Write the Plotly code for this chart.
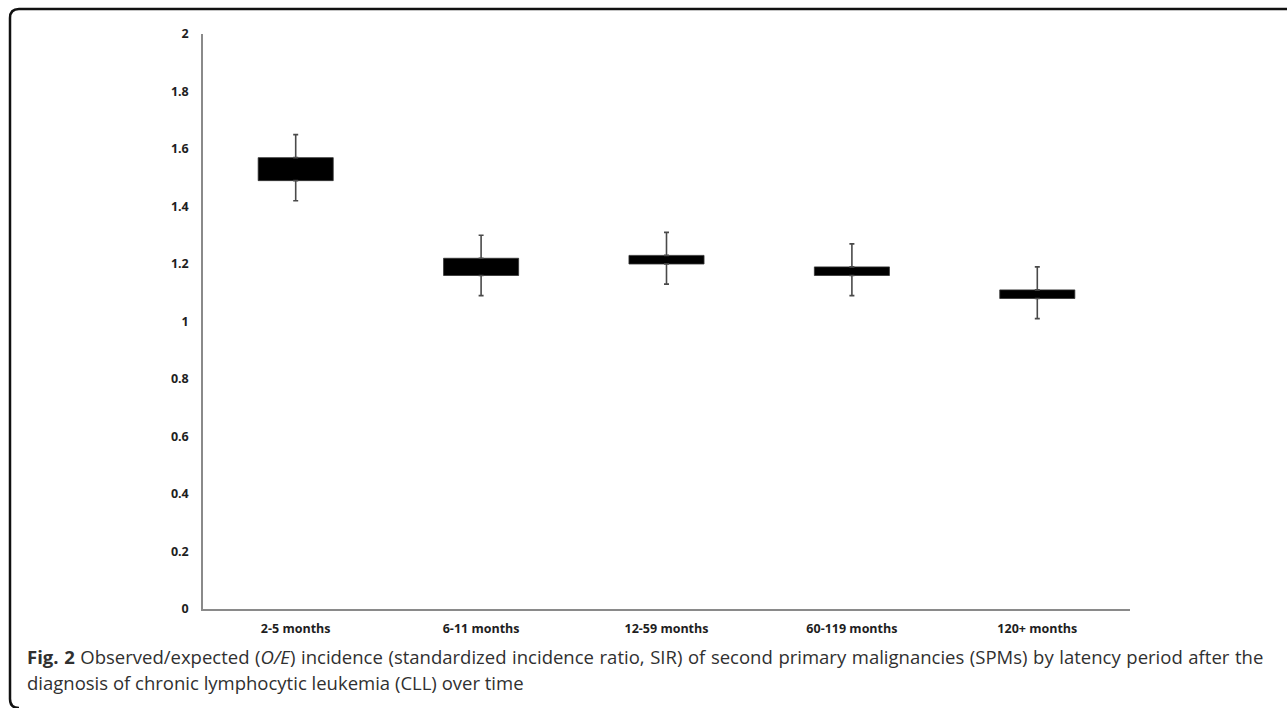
import plotly.graph_objects as go

# SIR by latency period after CLL diagnosis
periods = ["2-5 months", "6-11 months", "12-59 months", "60-119 months", "120+ months"]
ci_low = [1.42, 1.09, 1.13, 1.09, 1.01]
ci_high = [1.65, 1.30, 1.31, 1.27, 1.19]
box_low = [1.49, 1.16, 1.20, 1.16, 1.08]
box_high = [1.57, 1.22, 1.23, 1.19, 1.11]
y_ticks = [0, 0.2, 0.4, 0.6, 0.8, 1, 1.2, 1.4, 1.6, 1.8, 2]
y_tick_text = ["0", "0.2", "0.4", "0.6", "0.8", "1", "1.2", "1.4", "1.6", "1.8", "2"]

W, H = 1287, 708
L, R, T, B = 203, 157, 34, 99
PW, PH = W - L - R, H - T - B


def px(x):
    return (x - L) / PW


def py(y):
    return (H - B - y) / PH


whisker = dict(color="#4a4a4a", thickness=1.6, width=2.5)

fig = go.Figure()

# upper whiskers (box top -> upper limit)
fig.add_trace(go.Scatter(
    x=periods, y=box_high, mode="markers",
    marker=dict(size=1, color="rgba(0,0,0,0)"),
    error_y=dict(type="data", symmetric=False,
                 array=[h - b for h, b in zip(ci_high, box_high)],
                 arrayminus=[0] * len(periods), **whisker),
    showlegend=False, hoverinfo="skip",
))
# lower whiskers (lower limit -> box bottom)
fig.add_trace(go.Scatter(
    x=periods, y=box_low, mode="markers",
    marker=dict(size=1, color="rgba(0,0,0,0)"),
    error_y=dict(type="data", symmetric=False,
                 array=[0] * len(periods),
                 arrayminus=[b - l for b, l in zip(box_low, ci_low)], **whisker),
    showlegend=False, hoverinfo="skip",
))
# boxes
fig.add_trace(go.Bar(
    x=periods, y=[h - l for h, l in zip(box_high, box_low)], base=box_low,
    width=0.405, marker=dict(color="#000000", line=dict(color="#333333", width=0.8)),
    showlegend=False,
))

tick_font = dict(family="Open Sans", size=12.5, color="#1e1e1e", weight="bold")

fig.update_layout(
    width=W, height=H,
    margin=dict(l=L, r=R, t=T, b=B, pad=0),
    paper_bgcolor="white", plot_bgcolor="white",
    xaxis=dict(type="category", showgrid=False, zeroline=False,
               showline=True, linecolor="#8a8a8a", linewidth=1.5,
               ticks="", tickfont=tick_font, ticklabelstandoff=7),
    yaxis=dict(range=[0, 2], tickvals=y_ticks, ticktext=y_tick_text,
               showgrid=False, zeroline=False,
               showline=True, linecolor="#8a8a8a", linewidth=1.5,
               ticks="", tickfont=tick_font, ticklabelstandoff=10),
)

# rounded frame around figure and caption
frame = (f"M {px(1290)},{py(9)} L {px(19)},{py(9)} "
         f"Q {px(10)},{py(9)} {px(10)},{py(18)} "
         f"L {px(10)},{py(699)} Q {px(10)},{py(708)} {px(19)},{py(708)}")
fig.add_shape(type="path", path=frame, xref="paper", yref="paper",
              line=dict(color="#111111", width=2.5))

cap_font = dict(family="Open Sans", size=18.5, color="#303030")
fig.add_annotation(
    x=px(25), y=py(656), xref="paper", yref="paper", xanchor="left", yanchor="middle",
    showarrow=False, font=cap_font, align="left",
    text=("<span style=\"word-spacing:0.8px\"><b>Fig. 2</b> "
          "Observed/expected (<i>O/E</i>) incidence "
          "(standardized incidence ratio, SIR) of second primary malignancies (SPMs) "
          "by latency period after the</span>"),
)
fig.add_annotation(
    x=px(25), y=py(682), xref="paper", yref="paper", xanchor="left", yanchor="middle",
    showarrow=False, font=cap_font, align="left",
    text="diagnosis of chronic lymphocytic leukemia (CLL) over time",
)

fig.write_html("out.html")
